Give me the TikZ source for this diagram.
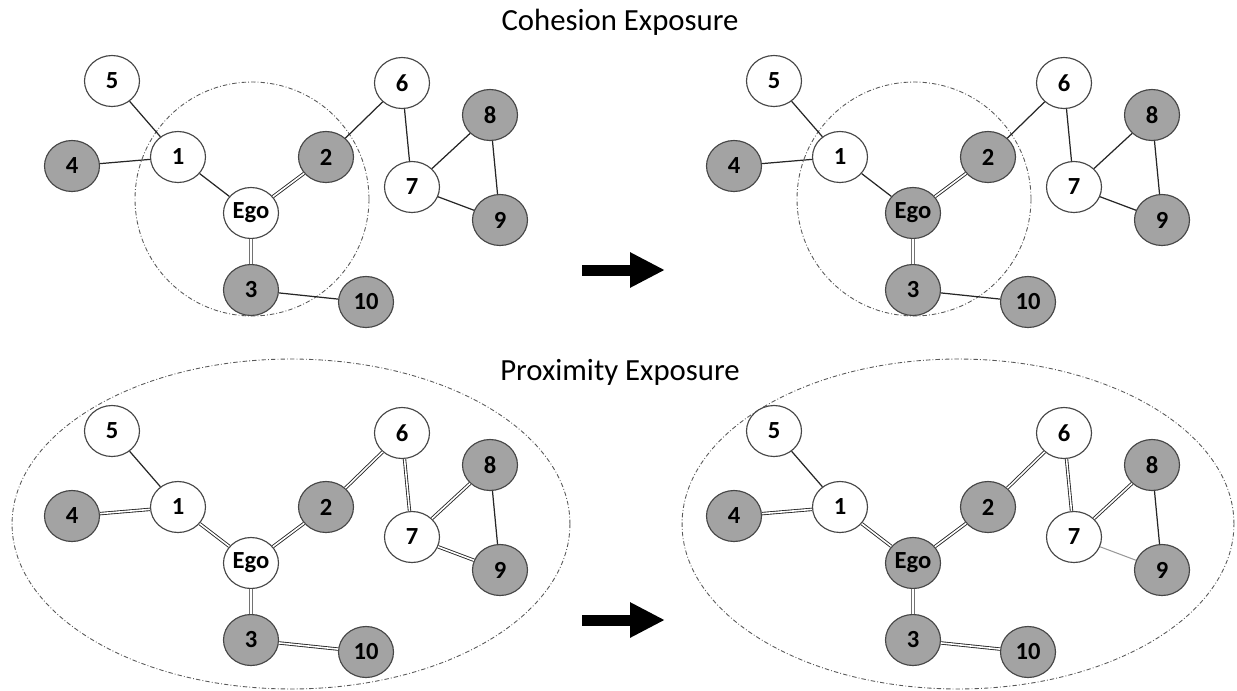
\documentclass[tikz,border=0pt]{standalone}
\usepackage{fontspec}
\setmainfont{Carlito}
\usepackage{tikz}
\usetikzlibrary{shapes.geometric, arrows.meta}

\definecolor{nodegray}{RGB}{163,163,163}
\definecolor{rimgray}{RGB}{70,70,70}

\begin{document}
\begin{tikzpicture}[x=0.02cm, y=-0.02cm,
    vert/.style={ellipse, draw=rimgray, line width=0.65pt, minimum width=1.1cm, minimum height=1.02cm, inner sep=0pt, font=\bfseries\fontsize{14}{14}\selectfont},
    tie/.style={draw=black!85, line width=0.7pt},
    strongtie/.style={draw=black!85, double=white, double distance=0.9pt, line width=0.5pt},
    weaktie/.style={draw=black!40, line width=0.6pt},
    ring/.style={draw=black!65, line width=0.5pt, dash pattern=on 2.5pt off 1.2pt on 0.5pt off 1.2pt},
    bigarrow/.style={line width=0.22cm, -{Triangle[length=0.7cm, width=0.66cm]}},
    title/.style={font=\fontsize{17.5}{18}\selectfont}]
  \useasboundingbox (0,0) rectangle (1237,690);

  \node[title] (cohesion) at (620,22) {Cohesion Exposure};
  \node[title] (proximity) at (620,372) {Proximity Exposure};

  \draw[ring] (252,199) circle (2.34cm);
  \draw[ring] (914,199) circle (2.34cm);
  \draw[ring] (291,524) ellipse (5.58cm and 3.3cm);
  \draw[ring] (958,524) ellipse (5.52cm and 3.3cm);

  \foreach \g/\dx/\dy/\egofill in {a/0/0/white, b/662/0/nodegray, c/0/350/white, d/662/350/nodegray}{
    \begin{scope}[shift={(\dx,\dy)}]
      \foreach \n/\px/\py/\f in {5/112/81/white, 6/402/83/white, 8/490/115/nodegray, 4/72/166/nodegray, 1/178/157/white, 2/326/157/nodegray, 7/412/187/white, Ego/251/213/\egofill, 9/500/220/nodegray, 3/251/290/nodegray, 10/366/302/nodegray}
        \node[vert, fill=\f] (\g\n) at (\px,\py) {\n};
    \end{scope}
  }

  \foreach \g in {a,b}{
    \draw[tie] (\g5) -- (\g1) (\g4) -- (\g1) (\g1) -- (\g Ego) (\g3) -- (\g10) (\g2) -- (\g6) (\g6) -- (\g7) (\g7) -- (\g8) (\g7) -- (\g9) (\g8) -- (\g9);
    \draw[strongtie] (\g Ego) -- (\g2) (\g Ego) -- (\g3);
  }
  \foreach \g in {c,d}{
    \draw[tie] (\g5) -- (\g1) (\g8) -- (\g9);
    \draw[strongtie] (\g4) -- (\g1) (\g1) -- (\g Ego) (\g Ego) -- (\g2) (\g2) -- (\g6) (\g6) -- (\g7) (\g7) -- (\g8) (\g Ego) -- (\g3) (\g3) -- (\g10);
  }
  \draw[strongtie] (c7) -- (c9);
  \draw[weaktie] (d7) -- (d9);

  \coordinate (topfrom) at (582,270);
  \coordinate (topto) at (665,270);
  \coordinate (lowfrom) at (582,620);
  \coordinate (lowto) at (665,620);
  \draw[bigarrow] (topfrom) -- (topto);
  \draw[bigarrow] (lowfrom) -- (lowto);
\end{tikzpicture}
\end{document}
